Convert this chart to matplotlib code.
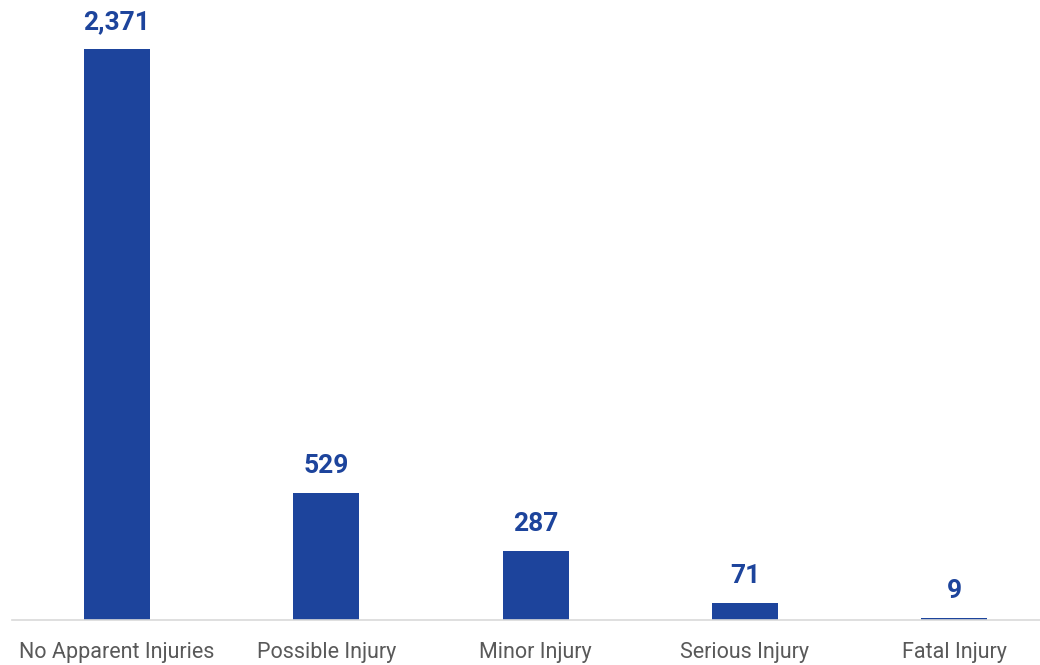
import matplotlib
matplotlib.use("Agg")
import matplotlib.pyplot as plt

plt.rcParams["font.family"] = ["Roboto", "DejaVu Sans"]

categories = ["No Apparent Injuries", "Possible Injury", "Minor Injury", "Serious Injury", "Fatal Injury"]
counts = [2371, 529, 287, 71, 9]

bar_color = "#1D449C"

fig = plt.figure(figsize=(10.4, 6.65), dpi=100)
ax = fig.add_axes([12.4 / 1040, 45 / 665, 1 - 12.4 / 1040, 571 / 665])

x = list(range(len(categories)))
bars = ax.bar(x, counts, width=0.315, color=bar_color)

for xi, v in zip(x, counts):
    ax.annotate(f"{v:,}", (xi, v), xytext=(0, 19.5), textcoords="offset points",
                ha="center", va="center", fontsize=19, fontweight="bold",
                color=bar_color, annotation_clip=False)

ax.set_xlim(-0.5, 4.41)
ax.set_ylim(0, 2371)
ax.set_xticks(x)
ax.set_xticklabels(categories, fontsize=15.5, color="#595959")
ax.tick_params(axis="x", length=0, pad=16)
ax.set_yticks([])
for side in ["top", "right", "left"]:
    ax.spines[side].set_visible(False)
ax.spines["bottom"].set_color("#D9D9D9")
ax.spines["bottom"].set_linewidth(1.2)

fig.savefig("out.png", dpi=100)
